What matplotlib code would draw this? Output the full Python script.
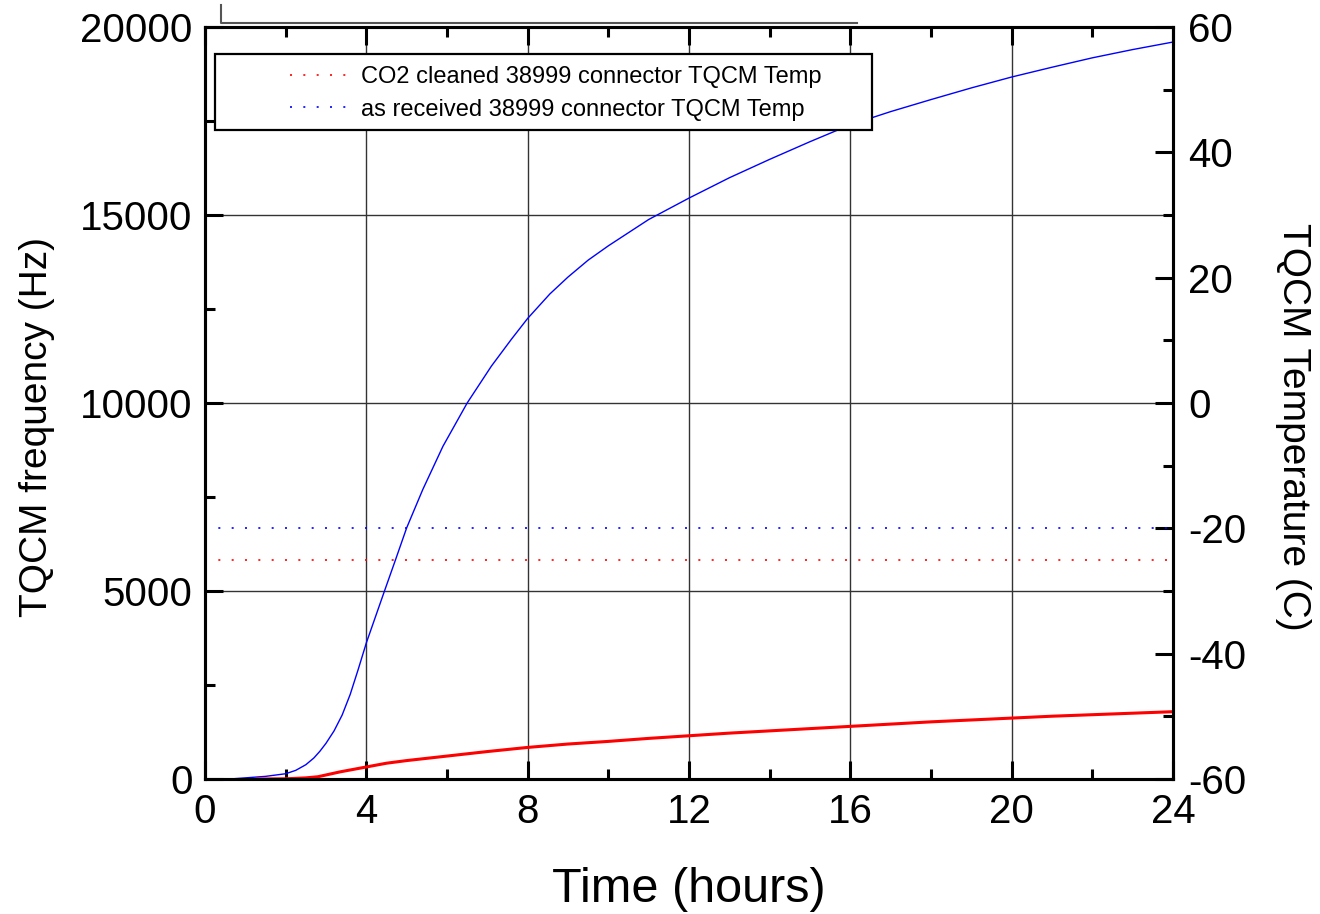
# TQCM frequency and temperature vs time, two connector samples

import numpy as np
import matplotlib.pyplot as plt
from matplotlib.lines import Line2D
from matplotlib.patches import Rectangle
from matplotlib.ticker import MultipleLocator

plt.rcParams['font.family'] = ['Liberation Sans', 'DejaVu Sans']
plt.rcParams['axes.unicode_minus'] = False

# --- Data ---
blue_hours = [0.62, 1.0, 1.5, 2.0, 2.25, 2.5, 2.7, 2.85, 3.0, 3.2, 3.4, 3.6, 3.8,
              4.0, 4.45, 4.73, 5.0, 5.4, 5.9, 6.5, 7.1, 7.6, 8.0, 8.55, 9.0, 9.5,
              10, 11, 12, 13, 14, 15, 16, 17, 18, 19, 20, 21, 22, 23, 24]
blue_freq = [0, 30, 70, 140, 230, 380, 560, 740, 950, 1280, 1700, 2250, 2920,
             3620, 5000, 5850, 6680, 7700, 8850, 10000, 10980, 11700, 12250,
             12900, 13350, 13800, 14180, 14880, 15450, 15990, 16480, 16950, 17400,
             17750, 18070, 18380, 18670, 18930, 19180, 19400, 19600]

red_hours = [1.3, 2.0, 2.5, 2.8, 3.35, 4.0, 4.5, 5.0, 5.5, 6.0, 6.5, 7.0, 7.5, 8.0,
             9, 10, 11, 12, 13, 14, 15, 16, 17, 18, 19, 20, 21, 22, 23, 24]
red_freq = [0, 5, 30, 60, 190, 320, 420, 490, 550, 610, 670, 730, 785, 840,
            930, 1000, 1080, 1150, 1220, 1280, 1340, 1400, 1460, 1520, 1570, 1620,
            1670, 1710, 1750, 1790]

temp_hours = [0, 24]
temp_co2 = [-25, -25]
temp_received = [-20, -20]

# --- Figure ---
fig = plt.figure(figsize=(13.2, 9.14), dpi=100)
ax = fig.add_axes([205 / 1320, 1 - 779 / 914, 968 / 1320, 752 / 914])
ax2 = ax.twinx()

ax.plot(blue_hours, blue_freq, color='#0000ff', lw=1.0, zorder=3)
ax.plot(red_hours, red_freq, color='#ff0000', lw=2.2, zorder=3)

dots = (0, (1.2, 6.8))
l1, = ax2.plot(temp_hours, temp_co2, color='#ff0000', lw=1.2, ls=dots,
               label='CO2 cleaned 38999 connector TQCM Temp')
l2, = ax2.plot(temp_hours, temp_received, color='#0000ff', lw=1.2, ls=dots,
               label='as received 38999 connector TQCM Temp')

ax.set_xlim(0, 24)
ax.set_ylim(0, 20000)
ax2.set_ylim(-60, 60)

ax.xaxis.set_major_locator(MultipleLocator(4))
ax.xaxis.set_minor_locator(MultipleLocator(2))
ax.yaxis.set_major_locator(MultipleLocator(5000))
ax.yaxis.set_minor_locator(MultipleLocator(2500))
ax2.yaxis.set_major_locator(MultipleLocator(20))
ax2.yaxis.set_minor_locator(MultipleLocator(10))

ax.grid(True, which='major', color='#333333', lw=1.0)

ax.tick_params(axis='x', which='both', direction='in', top=True, bottom=True,
               labelsize=29, pad=10)
ax.tick_params(axis='y', which='both', direction='in', left=True, right=False,
               labelsize=29, pad=9)
ax2.tick_params(axis='y', which='both', direction='in', labelsize=29, pad=11)
for a in (ax, ax2):
    a.tick_params(which='major', length=13, width=2.2)
    a.tick_params(which='minor', length=7, width=2.2)
for s in ax.spines.values():
    s.set_linewidth(2.2)
for s in ax2.spines.values():
    s.set_linewidth(2.2)

ax.set_xlabel('Time (hours)', fontsize=35, labelpad=26)
ax.set_ylabel('TQCM frequency (Hz)', fontsize=28)
ax.yaxis.set_label_coords(-0.155, 0.468)
ax2.set_ylabel('TQCM Temperature (C)', fontsize=28, rotation=270, va='bottom')
ax2.yaxis.set_label_coords(1.105, 0.468)

# legend box drawn separately so it can be wider than its contents
box = Rectangle((0.0103, 0.863), 0.6787, 0.101, transform=ax2.transAxes,
                facecolor='white', edgecolor='black', lw=1.6, zorder=5)
ax2.add_patch(box)
leg = ax2.legend(handles=[l1, l2], loc='upper left', bbox_to_anchor=(0.0878, 0.948),
                 frameon=False, fontsize=17, borderpad=0, borderaxespad=0,
                 handlelength=2.8, handletextpad=0.2, labelspacing=0.45)
leg.set_zorder(6)

# stray line along the top of the frame
fig.add_artist(Line2D([221 / 1320, 221 / 1320, 857 / 1320],
                      [1 - 5 / 914, 1 - 22.5 / 914, 1 - 22.5 / 914],
                      color='#555555', lw=1.5))

fig.savefig('out.png', dpi=100)
